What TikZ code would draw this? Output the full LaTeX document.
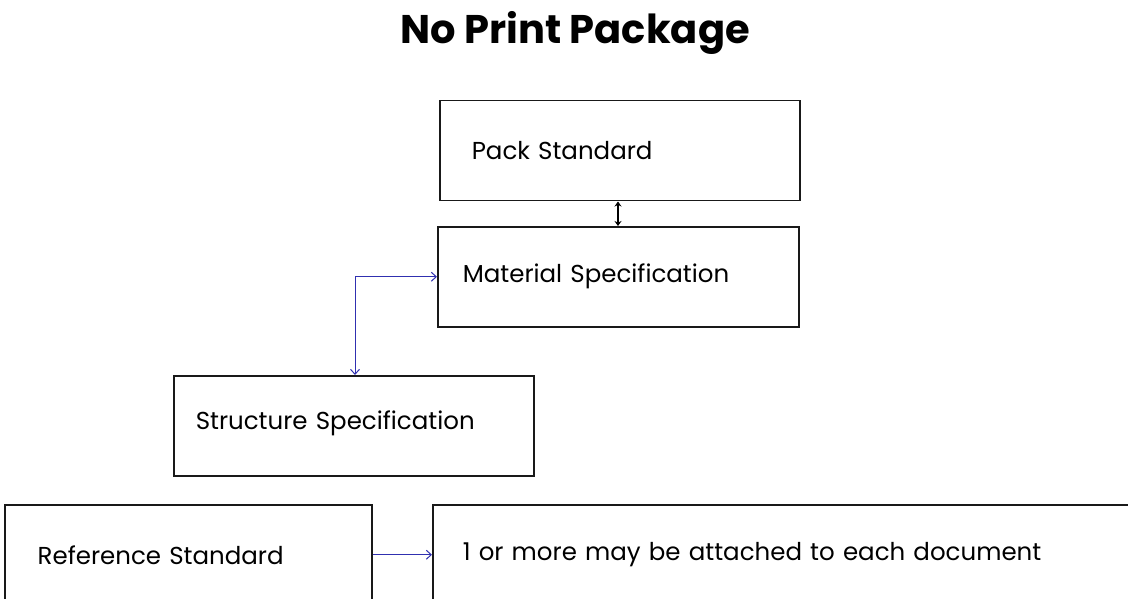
\documentclass[tikz,border=0pt]{standalone}
\usepackage{fontspec}
\setmainfont{Poppins}
\usetikzlibrary{arrows.meta}
\definecolor{linkblue}{RGB}{48,48,176}
\begin{document}
\begin{tikzpicture}[x=1pt,y=-1pt,
  box/.style={draw=black!90,line width=1.5pt,rectangle,minimum height=100pt,anchor=north west,align=left,inner ysep=0pt,font=\fontsize{24.5}{28}\selectfont},
  blink/.style={draw=linkblue,line width=1pt,-{Straight Barb[length=5pt,width=9pt]}},
  ]
\useasboundingbox (0,0) rectangle (1128,599);
\clip (0,0) rectangle (1128,599);
\node[font=\bfseries\fontsize{40}{44}\selectfont,anchor=base] (title) at (575,44) {No Print Package};
\node[box,text width=296pt,inner xsep=32pt] (pack) at (439,100) {Pack Standard};
\node[box,text width=311pt,inner xsep=25pt] (mat) at (437,226) {Material Specification};
\node[box,text width=316pt,inner xsep=22pt] (str) at (173,375) {\raisebox{12pt}{Structure Specification}};
\node[box,text width=301pt,inner xsep=33pt] (ref) at (4,504) {Reference Standard};
\node[box,text width=700pt,inner xsep=30pt] (att) at (432,504) {1 or more may be attached to each document};
\draw[line width=1.3pt,{Stealth[length=5pt,width=7pt]}-{Stealth[length=5pt,width=7pt]}] (pack.south -| 618,0) -- (mat.north -| 618,0);
\draw[blink,{Straight Barb[length=5pt,width=9pt]}-{Straight Barb[length=5pt,width=9pt]}] (str.north -| 355,0) |- (mat.west);
\draw[blink] (ref.east) -- (att.west);
\end{tikzpicture}
\end{document}
